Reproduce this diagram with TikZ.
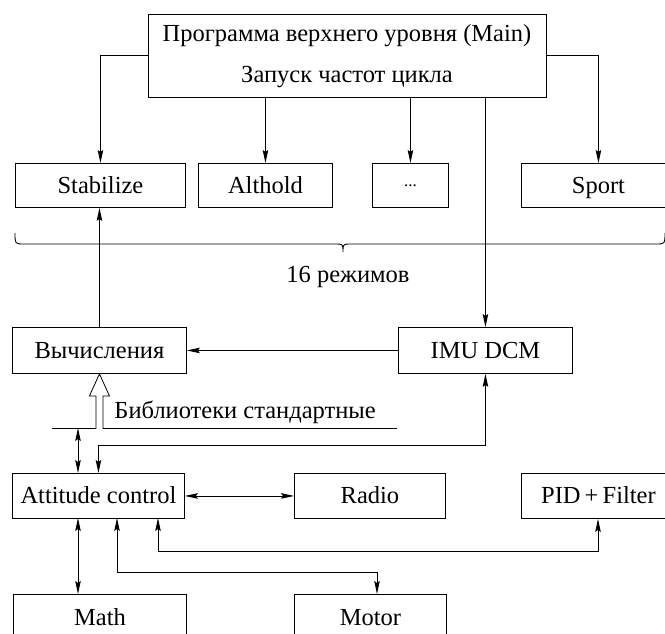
\documentclass[tikz,border=0pt]{standalone}
\usepackage{fontspec}
\setmainfont{Liberation Serif}
\usetikzlibrary{arrows.meta,calc}
\begin{document}
\begin{tikzpicture}[x=1pt,y=-1pt,line width=0.9pt,
  tip/.tip={Stealth[length=13pt,width=5.5pt,inset=2pt]},
  arr/.style={-tip},
  biarr/.style={tip-tip},
  box/.style={draw,anchor=north west,inner sep=0pt,text height=17pt,text depth=1pt,font=\fontsize{24.5}{28}\selectfont},
  lbl/.style={inner sep=0pt,font=\fontsize{24.5}{28}\selectfont}]
\useasboundingbox (0,0) rectangle (665,634);
\clip (0,0) rectangle (665,634);
% top
\node[box,minimum width=398pt,minimum height=83pt] (main) at (148,14) {};
\node[lbl] (mainA) at (347,36) {Программа верхнего уровня (Main)};
\node[lbl] (mainB) at (347,77) {Запуск частот цикла};
% modes
\node[box,minimum width=170pt,minimum height=44pt] (stab) at (15,163) {Stabilize};
\node[box,minimum width=134pt,minimum height=44pt] (alt) at (198,163) {Althold};
\node[box,minimum width=76pt,minimum height=44pt] (dots) at (372,163) {\raisebox{7pt}{\fontsize{17}{17}\selectfont ...}};
\node[box,minimum width=154pt,minimum height=44pt] (sport) at (521,163) {Sport};
% brace
\draw (15,233) .. controls (15,244) .. (24,244) -- (335,244)
  .. controls (343,244) .. (343,252) .. controls (343,244) .. (351,244) -- (656,244)
  .. controls (665,244) .. (665,233);
\node[lbl] (modes) at (348,277) {16 режимов};
% middle
\node[box,minimum width=174pt,minimum height=46pt] (calc) at (12,327) {Вычисления};
\node[box,minimum width=174pt,minimum height=46pt] (imu) at (398,327) {IMU DCM};
% library line
\coordinate (libL) at (52,428);
\coordinate (libR) at (397,428);
\draw (libL) -- (libR);
\node[lbl,anchor=west] (lib) at (114,412) {Библиотеки стандартные};
% lower
\node[box,minimum width=172pt,minimum height=45pt] (att) at (12,473) {Attitude control};
\node[box,minimum width=151pt,minimum height=45pt] (radio) at (294,473) {Radio};
\node[box,minimum width=154pt,minimum height=45pt] (pid) at (521,473) {PID\,+\,Filter};
\node[box,minimum width=173pt,minimum height=60pt] (math) at (13,594) {\raisebox{7pt}{Math}};
\node[box,minimum width=152pt,minimum height=60pt] (motor) at (294,594) {\raisebox{7pt}{Motor}};
% connectors from main
\draw[arr] (main.west) -| (stab.north);
\draw[arr] (main.east) -| (sport.north);
\draw[arr] (main.south -| alt.north) -- (alt.north);
\draw[arr] (main.south -| dots.north) -- (dots.north);
\draw[arr] (main.south -| imu.north) -- (imu.north);
% middle connectors
\draw[arr] (calc.north) -- (calc.north |- stab.south);
\draw[arr] (imu.west) -- (calc.east);
% hollow arrow
\draw[fill=white,line width=0.8pt] ($(calc.south)+(-3.5,55)$) -- ++(0,-33) -- ++(-6.5,0)
  -- (calc.south) -- ++(10,22) -- ++(-6.5,0) -- ++(0,33);
% library to attitude
\coordinate (lA) at (78,428);
\draw[biarr] (lA) -- (lA |- att.north);
\coordinate (imuB) at ($(imu.south)+(0,72)$);
\draw[biarr] (imu.south) -- (imuB) -| (att.north);
% attitude connectors
\draw[biarr] (att.east) -- (radio.west);
\coordinate (mA) at (78,518);
\draw[biarr] (mA) -- (mA |- math.north);
\coordinate (moA) at (117,518);
\coordinate (moB) at (377,572);
\draw[biarr] (moA) |- (moB) -- (moB |- motor.north);
\coordinate (pA) at (158,518);
\coordinate (pB) at (598,551);
\draw[biarr] (pA) |- (pB) -- (pB |- pid.south);
\end{tikzpicture}
\end{document}
